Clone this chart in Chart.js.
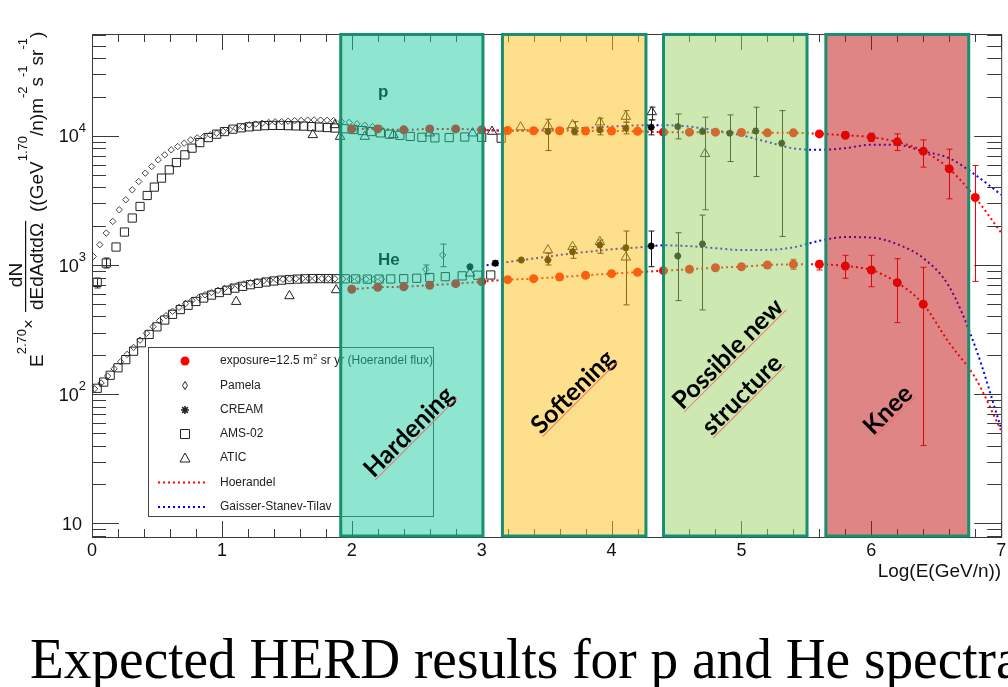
<!DOCTYPE html>
<html>
<head>
<meta charset="utf-8">
<script src="https://cdn.jsdelivr.net/npm/chart.js@4.4.1/dist/chart.umd.min.js"></script>
<style>
  html, body { margin: 0; padding: 0; background: #fff; }
  #chart { display: block; }
</style>
</head>
<body>
<canvas id="chart" width="1008" height="687"></canvas>
<script>
// expected HERD points (red dots) - p and He
const herdX_p = [2.0,2.2,2.4,2.6,2.8,3.0,3.2,3.4,3.6,3.8,4.0,4.2,4.4,4.6,4.8,5.0,5.2,5.4,5.6,5.8,6.0,6.2,6.4,6.6,6.8];
const herdP = [11320,11320,11130,11320,11320,11130,11000,10950,10950,10900,10900,10850,10680,10680,10680,10620,10550,10550,10360,10120,9770,8985,7616,5558,3334];
const herdPErrX = [5.8,6.0,6.2,6.4,6.6,6.8];
const herdPErrLo = [9770,9035,7697,5729,3256,747];
const herdPErrHi = [10680,10493,10363,9313,7892,5893];

const herdX_he = [2.0,2.2,2.4,2.6,2.8,3.0,3.2,3.4,3.6,3.8,4.0,4.2,4.4,4.6,4.8,5.0,5.2,5.4,5.6,5.8,6.0,6.2,6.4];
const herdHe = [649,672,679,697,717,743,770,784,807,832,857,879,904,927,953,970,1000,1012,1012,982,915,730,497];
const herdHeErrX = [5.4,5.6,5.8,6.0,6.2,6.4];
const herdHeErrLo = [926,915,789,679,358,40];
const herdHeErrHi = [1107,1079,1189,1189,1119,960];

// model curves
const hoerX = [2.0,2.2,2.4,2.6,2.8,3.0,3.2,3.4,3.6,3.8,4.0,4.2,4.4,4.6,4.8,5.0,5.2,5.4,5.6,5.8,6.0,6.2,6.4,6.6,6.8,7.0];
const hoerP = [11320,11320,11130,11320,11320,11130,11000,10950,10950,10900,10900,10850,10680,10680,10680,10620,10550,10550,10360,10120,9770,8985,7616,5558,3334,1776];
const hoerHe = [649,672,679,697,717,743,770,784,807,832,857,879,904,927,953,970,1000,1012,1012,982,915,730,497,249,134,52];
const gstX = [3.0,3.2,3.4,3.6,3.8,4.0,4.2,4.4,4.6,4.8,5.0,5.2,5.4,5.6,5.8,6.0,6.2,6.4,6.6,6.8,7.0];
const gstP = [11100,10950,11100,11300,11550,11800,12050,12100,11800,11030,10090,8985,8004,7794,8033,8550,8520,7590,6722,4993,3498];
const gstHe = [982,1055,1123,1195,1260,1323,1366,1420,1400,1350,1306,1310,1370,1540,1645,1630,1450,1130,679,233,54];

// Pamela
const pamPX = [0.01,0.06,0.11,0.16,0.21,0.26,0.31,0.36,0.41,0.46,0.51,0.56,0.61,0.66,0.71,0.76,0.81,0.86,0.91,0.96,1.01,1.06,1.11,1.16,1.21,1.26,1.31,1.36,1.41,1.46,1.51,1.56,1.61,1.66,1.71,1.76,1.81,1.86,1.92,1.98,2.04,2.10,2.16,2.22];
const pamP = [1165,1436,1768,2174,2678,3199,3823,4432,5146,5790,6522,7130,7793,8265,8780,9313,9650,9876,10200,10493,10850,11200,11470,11800,12165,12350,12530,12700,12850,12900,13000,13100,13150,13250,13290,13250,13200,13130,12900,12700,12400,12100,11800,11500];
const pamHeX = [0.02,0.07,0.12,0.17,0.22,0.27,0.32,0.37,0.42,0.47,0.52,0.57,0.62,0.67,0.72,0.77,0.82,0.87,0.92,0.97,1.02,1.07,1.12,1.17,1.22,1.27,1.32,1.37,1.42,1.47,1.52,1.57,1.62,1.67,1.72,1.77,1.82,1.87,1.93,1.99,2.05,2.11,2.17,2.23,2.57,2.70];
const pamHe = [110,122,138,157,178,203,230,262,296,333,370,405,438,470,502,532,560,588,612,636,658,678,697,714,729,742,753,762,770,776,780,783,785,786,786,785,784,782,780,778,776,775,775,776,926,1195];
const pamHeErrX = [2.57,2.70];
const pamHeErrLo = [852,970];
const pamHeErrHi = [1000,1453];

// CREAM
const creamPX = [3.51,3.715,3.91,4.11,4.305,4.51,4.70,4.91,5.11,5.31];
const creamP = [10800,10800,11130,11470,11640,11800,10800,10490,10930,8780];
const creamPErrX = [3.51,3.715,3.91,4.11,4.305,4.51,4.91,5.11,5.31];
const creamPErrLo = [7697,10180,10180,10360,10180,9480,6330,4843,1664];
const creamPErrHi = [13465,12900,13700,12760,13290,14790,14540,16680,15690];
const creamHeX = [2.91,3.105,3.305,3.51,3.70,3.91,4.11,4.305,4.51,4.70];
const creamHe = [970,1031,1093,1093,1267,1428,1361,1403,1174,1454];
const creamHeErrX = [3.105,3.51,3.70,3.91,4.11,4.305,4.51,4.70];
const creamHeErrLo = [990,1000,1127,1232,491,970,530,449];
const creamHeErrHi = [1075,1232,1386,1561,1833,1833,1778,2436];

// AMS-02
const amsPX = [0.04,0.11,0.185,0.25,0.31,0.37,0.425,0.48,0.535,0.595,0.65,0.715,0.77,0.83,0.895,0.96,1.02,1.085,1.15,1.21,1.27,1.33,1.39,1.45,1.51,1.57,1.63,1.69,1.75,1.81,1.87,1.94,2.01,2.08,2.15,2.22,2.29,2.37,2.45,2.54,2.64,2.75,2.87,3.0,3.15];
const amsP = [733,1036,1378,1800,2310,2840,3453,4011,4709,5458,6217,7130,8034,8876,9703,10307,10797,11270,11550,11750,11900,12000,12050,12050,12000,11950,11900,11800,11700,11600,11500,11350,11200,11000,10800,10550,10300,10100,9900,9750,9650,9700,9800,9750,9600];
const amsPErrX = [0.04,0.11];
const amsPErrLo = [664,948];
const amsPErrHi = [792,1133];
const amsHeX = [0.04,0.09,0.14,0.20,0.26,0.32,0.38,0.44,0.50,0.56,0.62,0.68,0.74,0.80,0.86,0.92,0.98,1.04,1.10,1.16,1.22,1.28,1.34,1.40,1.46,1.52,1.58,1.64,1.70,1.76,1.82,1.88,1.95,2.03,2.12,2.21,2.30,2.40,2.50,2.60,2.72,2.85,2.97,3.07];
const amsHe = [111,124,140,160,185,215,250,290,332,375,415,452,488,522,555,585,612,638,662,684,704,722,738,752,763,772,778,782,784,785,784,783,782,780,778,778,780,783,790,800,812,824,834,837];

// ATIC
const aticPX = [1.70,1.87,1.91,2.10,2.32,2.60,2.93,3.08,3.30,3.51,3.70,3.91,4.11,4.31,4.72];
const aticP = [10180,12160,9876,9876,10180,10490,10490,10800,11670,11950,12160,12760,14100,15330,7260];
const aticPErrX = [4.11,4.31,4.72];
const aticPErrLo = [12760,13290,2678];
const aticPErrHi = [15690,16680,13950];
const aticHeX = [1.11,1.52,1.88,2.91,3.51,3.70,3.91,4.11];
const aticHe = [520,576,641,863,1306,1385,1514,1147];

// axes
const xTicks = [0,1,2,3,4,5,6,7];
const yDecades = [1,2,3,4];
const yMin = 7.83, yMax = 61500;

// shaded energy regions
const regions = [
  { x0: 1.915, x1: 3.01, color: 'rgb(29,205,161)', text: ['Hardening'] },
  { x0: 3.16, x1: 4.265, color: 'rgb(251,191,25)', text: ['Softening'] },
  { x0: 4.4, x1: 5.505, color: 'rgb(155,209,97)', text: ['Possible new', 'structure'] },
  { x0: 5.65, x1: 6.75, color: 'rgb(193,11,11)', text: ['Knee'] }
];

const legendLabels = ['Pamela', 'CREAM', 'AMS-02', 'ATIC', 'Hoerandel', 'Gaisser-Stanev-Tilav'];

function pts(xs, ys) { return xs.map((x, i) => ({ x: x, y: ys[i] })); }
function errs(xs, lo, hi) { return { x: xs, lo: lo, hi: hi }; }

const SANS = '"Liberation Sans", Arial, sans-serif';

function drawMarker(ctx, kind, x, y) {
  ctx.save();
  ctx.lineWidth = 1;
  ctx.strokeStyle = '#222';
  ctx.beginPath();
  if (kind === 'dot') {
    ctx.fillStyle = '#ff0000';
    ctx.arc(x, y, 4.5, 0, Math.PI * 2);
    ctx.fill();
  } else if (kind === 'diamond') {
    ctx.moveTo(x, y - 4); ctx.lineTo(x + 2.5, y); ctx.lineTo(x, y + 4); ctx.lineTo(x - 2.5, y); ctx.closePath();
    ctx.stroke();
  } else if (kind === 'star') {
    ctx.lineWidth = 1.6;
    for (let a = 0; a < 4; a++) {
      const r = a * Math.PI / 4;
      ctx.moveTo(x - 4 * Math.cos(r), y - 4 * Math.sin(r));
      ctx.lineTo(x + 4 * Math.cos(r), y + 4 * Math.sin(r));
    }
    ctx.stroke();
  } else if (kind === 'square') {
    ctx.rect(x - 4.5, y - 4.5, 9, 9);
    ctx.stroke();
  } else if (kind === 'triangle') {
    ctx.moveTo(x, y - 5); ctx.lineTo(x + 5, y + 4); ctx.lineTo(x - 5, y + 4); ctx.closePath();
    ctx.stroke();
  }
  ctx.restore();
}

function drawRuns(ctx, x, y, parts) {
  let cx = x;
  parts.forEach(p => {
    ctx.font = p[1] + 'px ' + SANS;
    ctx.fillText(p[0], cx, y - p[2]);
    cx += ctx.measureText(p[0]).width;
  });
  return cx;
}

const decor = {
  id: 'decor',
  beforeDatasetsDraw(chart) {
    const { ctx, scales: { x, y } } = chart;
    ctx.save();
    ctx.lineWidth = 1;
    chart.data.datasets.forEach(ds => {
      if (!ds.err) return;
      ctx.strokeStyle = ds.errColor;
      ds.err.x.forEach((xv, i) => {
        const px = Math.round(x.getPixelForValue(xv)) + 0.5;
        const t = y.getPixelForValue(ds.err.hi[i]);
        const b = y.getPixelForValue(ds.err.lo[i]);
        ctx.beginPath();
        ctx.moveTo(px, t); ctx.lineTo(px, b);
        ctx.moveTo(px - 3, t); ctx.lineTo(px + 3, t);
        ctx.moveTo(px - 3, b); ctx.lineTo(px + 3, b);
        ctx.stroke();
      });
    });
    ctx.restore();
  },
  afterDraw(chart) {
    const { ctx, chartArea: a, scales: { x, y } } = chart;
    ctx.save();

    // frame and inward ticks
    ctx.strokeStyle = '#3a3a3a';
    ctx.lineWidth = 1;
    ctx.strokeRect(a.left + 0.5, a.top + 0.5, a.right - a.left, a.bottom - a.top);
    ctx.beginPath();
    for (let i = 0; i <= 35; i++) {
      const px = Math.round(x.getPixelForValue(i / 5)) + 0.5;
      const len = i % 5 === 0 ? 16 : 8;
      ctx.moveTo(px, a.bottom); ctx.lineTo(px, a.bottom - len);
      ctx.moveTo(px, a.top); ctx.lineTo(px, a.top + len);
    }
    [1, 10, 100, 1000, 10000].forEach(d => {
      for (let m = 1; m <= 9; m++) {
        const v = m * d;
        if (v < yMin || v > yMax) continue;
        const py = Math.round(y.getPixelForValue(v)) + 0.5;
        const len = m === 1 ? 27 : 14;
        ctx.moveTo(a.left, py); ctx.lineTo(a.left + len, py);
        ctx.moveTo(a.right, py); ctx.lineTo(a.right - len, py);
      }
    });
    ctx.stroke();

    // tick labels
    ctx.fillStyle = '#111';
    ctx.textAlign = 'center';
    ctx.textBaseline = 'alphabetic';
    ctx.font = '18px ' + SANS;
    xTicks.forEach(v => ctx.fillText(String(v), x.getPixelForValue(v), 556));
    ctx.textAlign = 'left';
    yDecades.forEach(e => {
      const py = y.getPixelForValue(Math.pow(10, e));
      ctx.font = '18px ' + SANS;
      const w10 = ctx.measureText('10').width;
      if (e === 1) {
        ctx.fillText('10', 82 - w10, py + 6.5);
      } else {
        ctx.font = '13px ' + SANS;
        const ws = ctx.measureText(String(e)).width;
        ctx.font = '18px ' + SANS;
        ctx.fillText('10', 86 - ws - w10, py + 6.5);
        ctx.font = '13px ' + SANS;
        ctx.fillText(String(e), 86 - ws, py - 4);
      }
    });

    // x title
    ctx.font = '19px ' + SANS;
    ctx.textAlign = 'right';
    ctx.fillText('Log(E(GeV/n))', a.right, 577);

    // y title (rotated)
    ctx.save();
    ctx.translate(43, 367);
    ctx.rotate(-Math.PI / 2);
    ctx.textAlign = 'left';
    drawRuns(ctx, 0, 0, [['E', 19, 0], ['2.70', 13, 17]]);
    ctx.font = '16px ' + SANS;
    ctx.textAlign = 'center';
    ctx.textBaseline = 'middle';
    ctx.fillText('\u00d7', 43, -13);
    ctx.textBaseline = 'alphabetic';
    ctx.font = '19px ' + SANS;
    const den = 'dEdAdtd\u03a9';
    const wd = ctx.measureText(den).width;
    ctx.textAlign = 'left';
    ctx.fillText(den, 57, 0);
    ctx.textAlign = 'center';
    ctx.fillText('dN', 92, -21.5);
    ctx.fillRect(55, -18, wd + 4, 1.2);
    ctx.textAlign = 'left';
    drawRuns(ctx, 155, 0, [['((GeV', 19, 0], ['1.70', 13, 16], ['/n)m', 19, 0], ['-2', 13, 16], ['s', 19, 0], ['-1', 13, 16], ['sr', 19, 0], ['-1', 13, 16], [')', 19, 0]]);
    ctx.restore();

    // legend
    ctx.strokeStyle = '#444';
    ctx.strokeRect(148.5, 347.5, 285, 169);
    const rows = [361, 385.5, 410, 434, 458, 482.5, 507];
    ctx.fillStyle = '#222';
    ctx.textAlign = 'left';
    ctx.textBaseline = 'middle';
    drawMarker(ctx, 'dot', 185, rows[0]);
    drawRuns(ctx, 220, rows[0], [['exposure=12.5 m', 12, 0], ['2', 8, 4], [' sr yr (Hoerandel flux)', 12, 0]]);
    ['diamond', 'star', 'square', 'triangle'].forEach((k, i) => drawMarker(ctx, k, 185, rows[i + 1]));
    ctx.font = '12px ' + SANS;
    legendLabels.forEach((t, i) => ctx.fillText(t, 220, rows[i + 1]));
    ctx.lineWidth = 2;
    ctx.setLineDash([2, 3]);
    [['#ff0000', rows[5]], ['#0000ff', rows[6]]].forEach(([c, ry]) => {
      ctx.strokeStyle = c;
      ctx.beginPath(); ctx.moveTo(158, ry); ctx.lineTo(208, ry); ctx.stroke();
    });
    ctx.setLineDash([]);

    // p / He labels
    ctx.fillStyle = '#000';
    ctx.textBaseline = 'alphabetic';
    ctx.font = 'bold 17px ' + SANS;
    ctx.fillText('p', 378, 96.5);
    ctx.fillText('He', 378, 265);

    // shaded regions
    regions.forEach(r => {
      const x0 = x.getPixelForValue(r.x0), x1 = x.getPixelForValue(r.x1);
      ctx.globalAlpha = 0.5;
      ctx.fillStyle = r.color;
      ctx.fillRect(x0, a.top, x1 - x0, a.bottom - a.top - 1);
      ctx.globalAlpha = 1;
      ctx.strokeStyle = '#17906f';
      ctx.lineWidth = 3;
      ctx.strokeRect(x0, a.top + 0.5, x1 - x0, a.bottom - a.top - 1.5);
    });

    // region labels
    const labelPos = [[[409, 432]], [[573, 392]], [[728, 354], [742, 395]], [[888, 410]]];
    ctx.font = 'bold 25px Lato, "Open Sans", sans-serif';
    ctx.textAlign = 'center';
    ctx.textBaseline = 'middle';
    regions.forEach((r, ri) => {
      r.text.forEach((t, li) => {
        const [cx, cy] = labelPos[ri][li];
        const w = ctx.measureText(t).width;
        ctx.save();
        ctx.translate(cx, cy);
        ctx.rotate(-Math.PI / 4);
        ctx.fillStyle = '#000';
        ctx.fillText(t, 0, 0);
        ctx.strokeStyle = 'rgba(235,110,110,0.9)';
        ctx.lineWidth = 1;
        ctx.beginPath(); ctx.moveTo(-w / 2, 10); ctx.lineTo(w / 2, 10); ctx.stroke();
        ctx.restore();
      });
    });

    // caption, cut at the right edge like the reference
    ctx.fillStyle = '#000';
    ctx.textAlign = 'left';
    ctx.textBaseline = 'alphabetic';
    ctx.font = '56px "Liberation Serif", "DejaVu Serif", serif';
    const cap = 'Expected HERD results for p and He spectra';
    const wPart = ctx.measureText('Expected HERD results for p and He spectr').width;
    const sx = 966 / wPart;
    ctx.save();
    ctx.translate(30, 678);
    ctx.scale(sx, 1);
    ctx.fillText(cap, 0, 0);
    ctx.restore();

    ctx.restore();
  }
};

const open = 'rgba(0,0,0,0)';
const dotted = { showLine: true, pointRadius: 0, borderWidth: 2, borderDash: [2, 3], cubicInterpolationMode: 'monotone', fill: false };

new Chart(document.getElementById('chart').getContext('2d'), {
  type: 'scatter',
  data: {
    datasets: [
      { label: 'HERD p', data: pts(herdX_p, herdP), pointStyle: 'circle', pointRadius: 4.5, pointBackgroundColor: '#ff0000', pointBorderColor: '#ff0000', pointBorderWidth: 0, err: errs(herdPErrX, herdPErrLo, herdPErrHi), errColor: '#ff0000' },
      { label: 'HERD He', data: pts(herdX_he, herdHe), pointStyle: 'circle', pointRadius: 4.5, pointBackgroundColor: '#ff0000', pointBorderColor: '#ff0000', pointBorderWidth: 0, err: errs(herdHeErrX, herdHeErrLo, herdHeErrHi), errColor: '#ff0000' },
      { label: 'CREAM p', data: pts(creamPX, creamP), pointStyle: 'star', pointRadius: 3.5, pointBorderColor: '#000', pointBorderWidth: 2, err: errs(creamPErrX, creamPErrLo, creamPErrHi), errColor: '#111' },
      { label: 'CREAM He', data: pts(creamHeX, creamHe), pointStyle: 'star', pointRadius: 3.5, pointBorderColor: '#000', pointBorderWidth: 2, err: errs(creamHeErrX, creamHeErrLo, creamHeErrHi), errColor: '#111' },
      { label: 'ATIC p', data: pts(aticPX, aticP), pointStyle: 'triangle', pointRadius: 5.5, pointBackgroundColor: open, pointBorderColor: '#222', pointBorderWidth: 1, err: errs(aticPErrX, aticPErrLo, aticPErrHi), errColor: '#222' },
      { label: 'ATIC He', data: pts(aticHeX, aticHe), pointStyle: 'triangle', pointRadius: 5.5, pointBackgroundColor: open, pointBorderColor: '#222', pointBorderWidth: 1 },
      { label: 'AMS p', data: pts(amsPX, amsP), pointStyle: 'rect', pointRadius: 5.8, pointBackgroundColor: open, pointBorderColor: '#222', pointBorderWidth: 1, err: errs(amsPErrX, amsPErrLo, amsPErrHi), errColor: '#222' },
      { label: 'AMS He', data: pts(amsHeX, amsHe), pointStyle: 'rect', pointRadius: 5.8, pointBackgroundColor: open, pointBorderColor: '#222', pointBorderWidth: 1 },
      { label: 'Pamela p', data: pts(pamPX, pamP), pointStyle: 'rectRot', pointRadius: 3.2, pointBackgroundColor: open, pointBorderColor: '#444', pointBorderWidth: 1 },
      { label: 'Pamela He', data: pts(pamHeX, pamHe), pointStyle: 'rectRot', pointRadius: 3.2, pointBackgroundColor: open, pointBorderColor: '#444', pointBorderWidth: 1, err: errs(pamHeErrX, pamHeErrLo, pamHeErrHi), errColor: '#444' },
      Object.assign({ label: 'Hoerandel p', data: pts(hoerX, hoerP), borderColor: '#ff0000' }, dotted),
      Object.assign({ label: 'Hoerandel He', data: pts(hoerX, hoerHe), borderColor: '#ff0000' }, dotted),
      Object.assign({ label: 'GST p', data: pts(gstX, gstP), borderColor: '#0000ff' }, dotted),
      Object.assign({ label: 'GST He', data: pts(gstX, gstHe), borderColor: '#0000ff' }, dotted)
    ]
  },
  options: {
    responsive: false,
    animation: false,
    devicePixelRatio: 1,
    layout: { padding: { left: 92, right: 5, top: 34, bottom: 150 } },
    scales: {
      x: { type: 'linear', min: 0, max: 7, display: false },
      y: { type: 'logarithmic', min: yMin, max: yMax, display: false }
    },
    plugins: { legend: { display: false }, tooltip: { enabled: false } }
  },
  plugins: [decor]
});
</script>
</body>
</html>
